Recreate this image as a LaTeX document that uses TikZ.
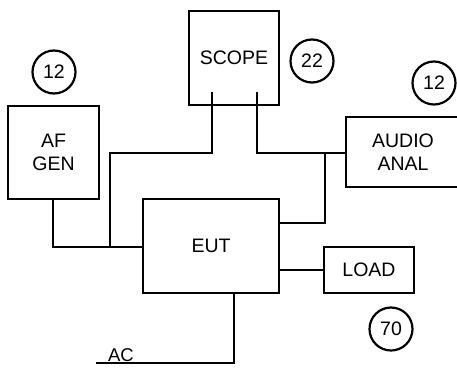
\documentclass[tikz,border=0pt]{standalone}
\usepackage{fontspec}
\setmainfont{Liberation Sans}
\begin{document}
\begin{tikzpicture}[x=1pt,y=-1pt,
  box/.style={draw,line width=2.7pt,inner sep=0pt,align=center,font=\fontsize{19.5}{23}\selectfont},
  num/.style={draw,circle,line width=2.2pt,minimum size=43pt,inner sep=0pt,font=\fontsize{19.5}{23}\selectfont},
  wire/.style={line width=2.7pt,line cap=rect}]
\useasboundingbox (0,0) rectangle (457,367);
\clip (0,0) rectangle (457,367);
\node[box,minimum width=91pt,minimum height=93pt] (afgen) at (53.5,152.5) {AF\\GEN};
\node[box,minimum width=90pt,minimum height=94pt] (scope) at (234,58) {SCOPE};
\node[box,minimum width=114pt,minimum height=70pt] (audio) at (403,152) {AUDIO\\ANAL};
\node[box,minimum width=136pt,minimum height=94pt] (eut) at (211,246) {EUT};
\node[box,minimum width=90pt,minimum height=46pt] (load) at (369,270) {LOAD};
\node[num] (c1) at (54,72) {12};
\node[num] (c2) at (312,61) {22};
\node[num] (c3) at (434,83) {12};
\node[num] (c4) at (391,329) {70};
\coordinate (sl) at (212,93);
\coordinate (sr) at (257,93);
\coordinate (jn) at (110,247);
\coordinate (ja) at (325,153);
\coordinate (acend) at (97,363);
\draw[wire] (sl) |- (jn |- 0,153) -- (jn);
\draw[wire] (sr) |- (audio.west |- 0,153);
\draw[wire] (ja) |- (eut.east |- 0,223);
\draw[wire] (afgen.south -| 53,0) |- (eut.west |- 0,247);
\draw[wire] (eut.east |- 0,270) -- (load.west);
\draw[wire] (eut.south -| 234,0) |- (acend);
\node[font=\fontsize{18.5}{23}\selectfont,anchor=base,inner sep=0pt] (ac) at (121,361) {AC};
\end{tikzpicture}
\end{document}
